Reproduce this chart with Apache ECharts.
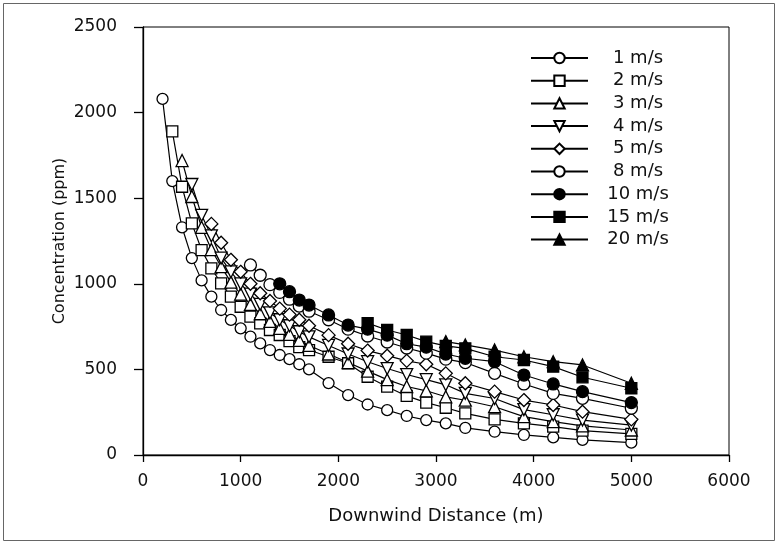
<!DOCTYPE html>
<html>
<head>
<meta charset="utf-8">
<script src="https://cdn.jsdelivr.net/npm/echarts@6/dist/echarts.min.js"></script>
<style>
  html, body { margin: 0; padding: 0; background: #fff; }
  #chart { width: 777px; height: 542px; }
</style>
</head>
<body>
<div id="chart"></div>
<script>
// downwind distance (m) shared by all wind speeds
const distances = [200, 300, 400, 500, 600, 700, 800, 900, 1000, 1100, 1200, 1300, 1400, 1500, 1600, 1700,
  1900, 2100, 2300, 2500, 2700, 2900, 3100, 3300, 3600, 3900, 4200, 4500, 5000]

// concentration (ppm) per wind speed, null where the curve has not started yet
const conc1 = [2080, 1600, 1330, 1150, 1020, 925, 847, 789, 740, 691, 652, 613, 584, 560, 530, 500,
  420, 350, 295, 262, 228, 204, 185, 158, 136, 117, 103, 88, 72]
const conc2 = [null, 1890, 1567, 1353, 1197, 1090, 1003, 925, 866, 808, 769, 730, 701, 665, 630, 613,
  574, 536, 457, 399, 345, 306, 276, 243, 208, 185, 166, 142, 123]
const conc3 = [null, null, 1720, 1510, 1330, 1200, 1100, 1010, 940, 880, 825, 780, 740, 705, 670, 640,
  590, 540, 490, 440, 400, 375, 340, 320, 282, 224, 195, 170, 146]
const conc4 = [null, null, null, 1580, 1400, 1280, 1150, 1070, 1000, 940, 880, 830, 790, 755, 720, 690,
  640, 590, 545, 505, 470, 440, 410, 360, 330, 265, 235, 204, 175]
const conc5 = [null, null, null, null, null, 1350, 1240, 1140, 1070, 1000, 945, 900, 855, 820, 790, 755,
  700, 650, 610, 580, 550, 530, 477, 419, 370, 321, 292, 253, 208]
const conc8 = [null, null, null, null, null, null, null, null, null, 1110, 1050, 995, 950, 910, 870, 840,
  790, 735, 695, 660, 625, 595, 560, 540, 477, 415, 360, 331, 273]
const conc10 = [null, null, null, null, null, null, null, null, null, null, null, null, 1000, 954, 905, 876,
  818, 759, 735, 700, 650, 630, 590, 565, 545, 467, 415, 370, 306]
const conc15 = [null, null, null, null, null, null, null, null, null, null, null, null, null, null, null, null,
  null, null, 770, 730, 701, 662, 637, 623, 574, 555, 516, 454, 390]
const conc20 = [null, null, null, null, null, null, null, null, null, null, null, null, null, null, null, null,
  null, null, null, null, null, null, 662, 643, 613, 574, 545, 526, 419]

const speedNames = ['1 m/s', '2 m/s', '3 m/s', '4 m/s', '5 m/s', '8 m/s', '10 m/s', '15 m/s', '20 m/s']
const xTicks = [0, 6000, 1000]
const yTicks = [0, 2500, 500]

const FONT = '"DejaVu Sans", sans-serif'
const DIAMOND = 'path://M5,0L10,5L5,10L0,5Z'

// marker look per series: symbol, size, filled or not
const markers = [
  { symbol: 'circle', size: 11, filled: false },
  { symbol: 'rect', size: 11, filled: false },
  { symbol: 'triangle', size: 12, filled: false },
  { symbol: 'triangle', size: 12, filled: false, rotate: 180 },
  { symbol: DIAMOND, size: 13, filled: false },
  { symbol: 'circle', size: 12, filled: false },
  { symbol: 'circle', size: 12, filled: true },
  { symbol: 'rect', size: 11, filled: true },
  { symbol: 'triangle', size: 12, filled: true }
]

function pairs(values) {
  const out = []
  values.forEach((v, i) => {
    if (v !== null) out.push([distances[i], v])
  })
  return out
}

const allValues = [conc1, conc2, conc3, conc4, conc5, conc8, conc10, conc15, conc20]

const series = allValues.map((vals, i) => {
  const m = markers[i]
  return {
    name: speedNames[i],
    type: 'line',
    data: pairs(vals),
    symbol: m.symbol,
    symbolSize: m.size,
    symbolRotate: m.rotate || 0,
    showAllSymbol: true,
    lineStyle: { color: '#000', width: 1.2 },
    itemStyle: {
      color: m.filled ? '#000' : '#fff',
      borderColor: '#000',
      borderWidth: 1.3
    },
    emphasis: { disabled: true },
    animation: false
  }
})

const chart = echarts.init(document.getElementById('chart'))

chart.setOption({
  backgroundColor: '#fff',
  animation: false,
  textStyle: { fontFamily: FONT, color: '#111' },
  grid: {
    left: 143,
    right: 48,
    top: 27,
    bottom: 87,
    show: true,
    borderColor: '#000',
    borderWidth: 1
  },
  legend: {
    orient: 'vertical',
    left: 525,
    top: 44,
    itemWidth: 57,
    itemHeight: 13,
    itemGap: 4.7,
    data: speedNames,
    formatter: (name) => '{t|' + name + '}',
    textStyle: {
      fontFamily: FONT,
      rich: {
        t: { width: 90, align: 'center', fontSize: 18, lineHeight: 16, color: '#111', fontFamily: FONT }
      }
    }
  },
  xAxis: {
    type: 'value',
    min: xTicks[0],
    max: xTicks[1],
    interval: xTicks[2],
    name: 'Downwind Distance (m)',
    nameLocation: 'middle',
    nameGap: 52,
    nameMoveOverlap: false,
    nameTextStyle: { fontSize: 18, color: '#111', fontFamily: FONT },
    axisLine: { onZero: false, lineStyle: { color: '#000', width: 1.3 } },
    axisTick: { show: true, inside: false, length: 7, lineStyle: { color: '#000', width: 1.3 } },
    axisLabel: { fontSize: 17, color: '#111', margin: 18, fontFamily: FONT, formatter: (v) => String(v) },
    splitLine: { show: false }
  },
  yAxis: {
    type: 'value',
    min: yTicks[0],
    max: yTicks[1],
    interval: yTicks[2],
    name: 'Concentration (ppm)',
    nameLocation: 'middle',
    nameGap: 75,
    nameMoveOverlap: false,
    nameTextStyle: { fontSize: 16, color: '#111', fontFamily: FONT },
    axisLine: { show: true, onZero: false, lineStyle: { color: '#000', width: 1.3 } },
    axisTick: { show: true, inside: false, length: 9, lineStyle: { color: '#000', width: 1.3 } },
    axisLabel: { fontSize: 17, color: '#111', margin: 26, fontFamily: FONT, formatter: (v) => String(v) },
    splitLine: { show: false }
  },
  graphic: [
    {
      type: 'rect',
      shape: { x: 3.5, y: 3.5, width: 771, height: 537 },
      style: { fill: null, stroke: '#666', lineWidth: 1 },
      silent: true,
      z: -1
    }
  ],
  series: series
})
</script>
</body>
</html>
